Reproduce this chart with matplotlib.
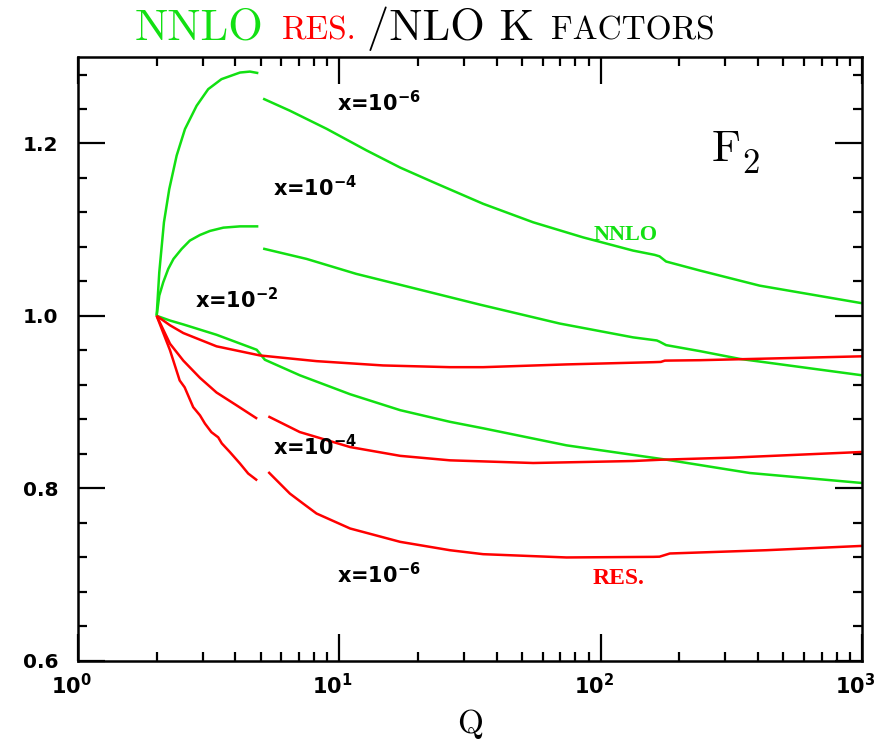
import numpy as np
import matplotlib
matplotlib.use("Agg")
import matplotlib.pyplot as plt
from matplotlib.ticker import (FixedLocator, LogLocator, MultipleLocator,
                               NullFormatter, FormatStrFormatter)
from matplotlib import transforms

plt.rcParams['font.family'] = 'DejaVu Sans'
plt.rcParams['font.weight'] = 'bold'

GREEN = '#12e012'
RED = '#ff0000'
nan = np.nan

# NNLO / NLO K-factors for F2 (nan marks the break at the b threshold)
q_nnlo_6 = [2.0, 2.047, 2.133, 2.235, 2.386, 2.567, 2.844, 3.15, 3.54, 4.17, 4.55, 4.90, 5.0,
            5.11, 6.47, 8.94, 12.7, 17.1, 22.9, 35.5, 55.2, 85.7, 133, 161, 168, 178,
            240, 406, 1000]
k_nnlo_6 = [1.000, 1.0505, 1.1085, 1.147, 1.186, 1.2167, 1.2437, 1.263, 1.2746, 1.2823, 1.2834,
            1.2816, nan,
            1.252, 1.238, 1.217, 1.192, 1.172, 1.155, 1.130, 1.1085, 1.091, 1.0757, 1.0707, 1.069,
            1.063, 1.0525, 1.035, 1.0146]

q_nnlo_4 = [2.0, 2.047, 2.12, 2.216, 2.32, 2.493, 2.68, 2.93, 3.20, 3.60, 4.17, 4.90, 5.0,
            5.11, 7.50, 11.6, 17.1, 34.5, 69.8, 133, 164, 168, 178, 240, 341, 1000]
k_nnlo_4 = [1.000, 1.0235, 1.039, 1.0545, 1.066, 1.0776, 1.0873, 1.0938, 1.0985, 1.1023, 1.1038,
            1.1038, nan,
            1.078, 1.066, 1.0487, 1.036, 1.013, 0.991, 0.975, 0.9714, 0.970, 0.966, 0.959, 0.950,
            0.931]

q_nnlo_2 = [2.0, 2.25, 2.53, 3.39, 4.83, 5.0, 5.19, 7.06, 11.0, 17.1, 26.5, 35.5, 74.0,
            179, 372, 1000]
k_nnlo_2 = [1.000, 0.9945, 0.990, 0.978, 0.9606, 0.955, 0.949, 0.931, 0.909, 0.8905, 0.877,
            0.8695, 0.8497, 0.833, 0.8176, 0.806]

# resummed / NLO K-factors
q_res_2 = [2.0, 2.25, 2.53, 3.39, 4.97, 8.18, 14.7, 26.5, 35.5, 74.0, 159, 170, 176, 240, 1000]
k_res_2 = [1.000, 0.989, 0.980, 0.9646, 0.954, 0.9474, 0.9424, 0.9404, 0.9404, 0.9436, 0.9462,
           0.9465, 0.948, 0.9485, 0.953]

q_res_4 = [2.0, 2.25, 2.53, 2.93, 3.39, 4.05, 4.85, 5.0, 5.35, 7.06, 11.0, 17.1, 26.5,
           55.2, 133, 170, 321, 1000]
k_res_4 = [1.000, 0.9676, 0.948, 0.928, 0.911, 0.896, 0.8806, nan, 0.8833, 0.8651, 0.8477,
           0.8375, 0.8323, 0.8292, 0.8315, 0.833, 0.8355, 0.842]

q_res_6 = [2.0, 2.25, 2.45, 2.56, 2.76, 2.93, 3.06, 3.24, 3.44, 3.55, 3.81, 4.17, 4.48,
           4.85, 5.0, 5.35, 6.47, 7.28, 8.18, 11.0, 17.1, 26.5, 35.5, 74.0, 159, 168, 184,
           430, 1000]
k_res_6 = [1.000, 0.960, 0.925, 0.917, 0.894, 0.8845, 0.875, 0.865, 0.859, 0.852, 0.842,
           0.8285, 0.817, 0.809, nan, 0.8188, 0.7937, 0.782, 0.7706, 0.7532, 0.7377, 0.728,
           0.7234, 0.7196, 0.7203, 0.7205, 0.7242, 0.728, 0.733]

xtick_values = [1, 10, 100, 1000]
ytick_values = [0.6, 0.8, 1.0, 1.2]

fig = plt.figure(figsize=(8.84, 7.4), dpi=100)
ax = fig.add_axes([0.0882, 0.1074, 0.8869, 0.8152])

curves = [(q_nnlo_6, k_nnlo_6, GREEN), (q_nnlo_4, k_nnlo_4, GREEN), (q_nnlo_2, k_nnlo_2, GREEN),
          (q_res_2, k_res_2, RED), (q_res_4, k_res_4, RED), (q_res_6, k_res_6, RED)]
for q, k, c in curves:
    ax.plot(q, k, color=c, lw=1.8, solid_joinstyle='round', solid_capstyle='butt')

ax.set_xscale('log')
ax.set_xlim(1, 1000)
ax.set_ylim(0.6, 1.3)
ax.xaxis.set_major_locator(FixedLocator(xtick_values))
ax.xaxis.set_minor_locator(LogLocator(base=10, subs=np.arange(2, 10)))
ax.xaxis.set_major_formatter(NullFormatter())
ax.xaxis.set_minor_formatter(NullFormatter())
ax.yaxis.set_major_locator(FixedLocator(ytick_values))
ax.yaxis.set_minor_locator(MultipleLocator(0.04))
ax.yaxis.set_major_formatter(FormatStrFormatter('%.1f'))
ax.tick_params(which='both', direction='in', top=True, right=True, width=1.6, color='black')
ax.tick_params(which='major', length=19.5)
ax.tick_params(which='minor', length=6.5)
ax.tick_params(axis='y', which='major', labelsize=14.5, pad=14)
for s in ax.spines.values():
    s.set_linewidth(1.8)

# decade labels below the axis
xlab_trans = transforms.offset_copy(ax.get_xaxis_transform(), fig=fig, x=-7, y=-12, units='dots')
for v in xtick_values:
    ax.text(v, 0, r'$\mathregular{10^{%d}}$' % round(np.log10(v)), transform=xlab_trans,
            ha='center', va='top', fontsize=15, clip_on=False)

fig.text(470 / 884, (740 - 733) / 740, 'Q', family='cmr10', weight='normal', fontsize=24,
         ha='center', va='baseline')

# curve labels
for q, k, e in [(9.79, 1.238, '-6'), (5.57, 1.139, '-4'), (2.80, 1.0085, '-2'),
                (5.57, 0.838, '-4'), (9.79, 0.690, '-6')]:
    ax.text(q, k, r'x=$\mathregular{10^{%s}}$' % e, fontsize=15, ha='left', va='baseline')

ax.text(94.2, 1.0884, 'NNLO', color=GREEN, family='Liberation Serif', weight='bold',
        fontsize=16, va='baseline')
ax.text(93.3, 0.6887, 'RES.', color=RED, family='Liberation Serif', weight='bold',
        fontsize=17, va='baseline')

ax.text(0.8087, 0.828, 'F', transform=ax.transAxes, family='cmr10', weight='normal',
        fontsize=32, va='baseline')
ax.text(0.847, 0.808, '2', transform=ax.transAxes, family='cmr10', weight='normal',
        fontsize=25, va='baseline')

# title: NNLO RES./NLO K FACTORS with small-caps pieces
title_y = (740 - 40) / 740
for txt, col, size, cx in [('NNLO', GREEN, 32, 199), ('RES.', RED, 24, 319.5),
                           ('/NLO K', 'black', 32, 450.5), ('FACTORS', 'black', 24, 632.5)]:
    fig.text(cx / 884, title_y, txt, color=col, family='cmr10', weight='normal',
             fontsize=size, ha='center', va='baseline')

fig.savefig('out.png', dpi=100)
